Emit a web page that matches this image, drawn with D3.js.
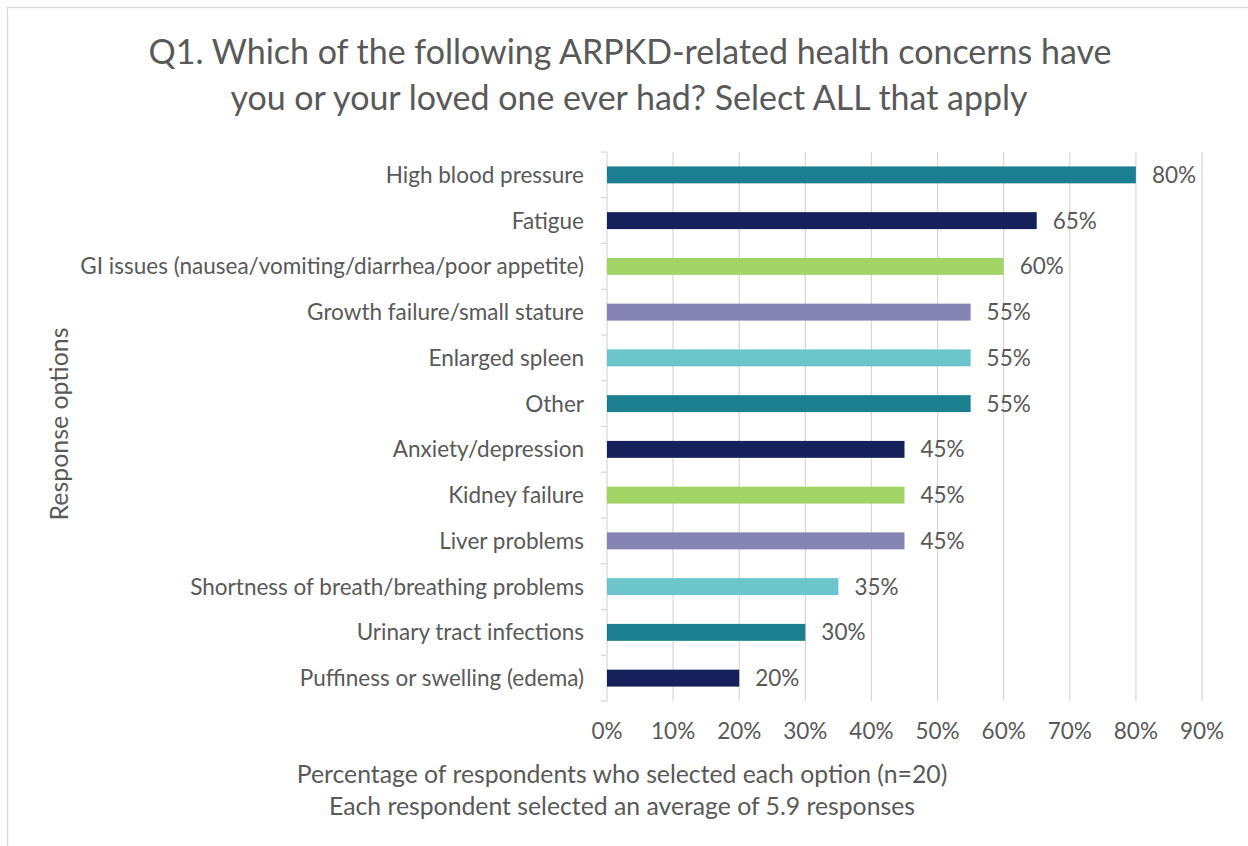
<!DOCTYPE html>
<html><head><meta charset="utf-8">
<script src="https://cdn.jsdelivr.net/npm/d3@7"></script>
<style>
html,body{margin:0;padding:0;background:#fff;}
svg text{font-family:Lato,"Open Sans",sans-serif;fill:#595959;}
</style></head>
<body>
<svg id="chart" width="1248" height="846"></svg>
<script>
const categories = [
  "High blood pressure",
  "Fatigue",
  "GI issues (nausea/vomiting/diarrhea/poor appetite)",
  "Growth failure/small stature",
  "Enlarged spleen",
  "Other",
  "Anxiety/depression",
  "Kidney failure",
  "Liver problems",
  "Shortness of breath/breathing problems",
  "Urinary tract infections",
  "Puffiness or swelling (edema)"
];
const values = [80, 65, 60, 55, 55, 55, 45, 45, 45, 35, 30, 20];
const barColors = ["#1C7F91", "#16205B", "#A2D468", "#8584B4", "#6BC5CA"];
const xTicks = [0, 10, 20, 30, 40, 50, 60, 70, 80, 90];
const titleLines = ["Q1. Which of the following ARPKD-related health concerns have", "you or your loved one ever had? Select ALL that apply"];
const xTitleLines = ["Percentage of respondents who selected each option (n=20)", "Each respondent selected an average of 5.9 responses"];
const yTitle = "Response options";

(function () {
const svg = d3.select("#chart");
svg.append("rect").attr("x", 7.5).attr("y", 7.5).attr("width", 1260).attr("height", 860)
  .attr("fill", "#fff").attr("stroke", "#d9d9d9").attr("stroke-width", 1.3);

const pl = 607, pr = 1202, pt = 152, pb = 701;
const x = d3.scaleLinear().domain([0, 90]).range([pl, pr]);
const y = d3.scaleBand().domain(categories).range([pt, pb]).paddingInner(0.63).paddingOuter(0.315);

function fit(sel, target, base) {
  sel.attr("font-size", base);
  const w = sel.node().getComputedTextLength();
  sel.attr("font-size", base * target / w);
}

// gridlines
svg.append("g").selectAll("line").data(xTicks.slice(1)).join("line")
  .attr("x1", d => x(d)).attr("x2", d => x(d)).attr("y1", pt).attr("y2", pb)
  .attr("stroke", "#d9d9d9").attr("stroke-width", 1.3);

// y axis line with ticks at band boundaries
const yAxisG = svg.append("g");
yAxisG.append("line").attr("x1", pl).attr("x2", pl).attr("y1", pt).attr("y2", pb)
  .attr("stroke", "#d9d9d9").attr("stroke-width", 1.3);
const bounds = d3.range(categories.length + 1).map(i => pt + i * (pb - pt) / categories.length);
yAxisG.selectAll("line.t").data(bounds).join("line").attr("class", "t")
  .attr("x1", pl - 6).attr("x2", pl).attr("y1", d => d).attr("y2", d => d)
  .attr("stroke", "#d9d9d9").attr("stroke-width", 1.3);

// bars
svg.append("g").selectAll("rect").data(categories).join("rect")
  .attr("x", x(0)).attr("y", d => y(d)).attr("height", y.bandwidth())
  .attr("width", (d, i) => x(values[i]) - x(0))
  .attr("fill", (d, i) => barColors[i % barColors.length]);

// category labels
const catTexts = svg.append("g").selectAll("text").data(categories).join("text")
  .attr("x", 584).attr("y", d => y(d) + y.bandwidth() / 2)
  .attr("dy", "0.35em").attr("text-anchor", "end").attr("font-size", 19)
  .text(d => d);
const lw = catTexts.nodes()[2].getComputedTextLength();
const catSize = 19 * 504 / lw;
catTexts.attr("font-size", catSize);

// value labels
svg.append("g").selectAll("text").data(categories).join("text")
  .attr("x", (d, i) => x(values[i]) + 16).attr("y", d => y(d) + y.bandwidth() / 2)
  .attr("dy", "0.35em").attr("font-size", catSize)
  .text((d, i) => values[i] + "%");

// x tick labels
svg.append("g").selectAll("text").data(xTicks).join("text")
  .attr("x", d => x(d)).attr("y", 739).attr("text-anchor", "middle")
  .attr("font-size", catSize)
  .text(d => d + "%");

// title
const t1 = svg.append("text").attr("x", 630).attr("y", 64).attr("text-anchor", "middle").text(titleLines[0]);
fit(t1, 963, 30);
svg.append("text").attr("x", 629).attr("y", 110).attr("text-anchor", "middle")
  .attr("font-size", t1.attr("font-size")).text(titleLines[1]);

// x axis title
const a1 = svg.append("text").attr("x", 622).attr("y", 783).attr("text-anchor", "middle").text(xTitleLines[0]);
fit(a1, 651, 21);
svg.append("text").attr("x", 622).attr("y", 815).attr("text-anchor", "middle")
  .attr("font-size", a1.attr("font-size")).text(xTitleLines[1]);

// y axis title
const yt = svg.append("text").attr("transform", "translate(68,424) rotate(-90)")
  .attr("text-anchor", "middle").text(yTitle);
fit(yt, 193, 21);
})();
</script>
</body></html>
